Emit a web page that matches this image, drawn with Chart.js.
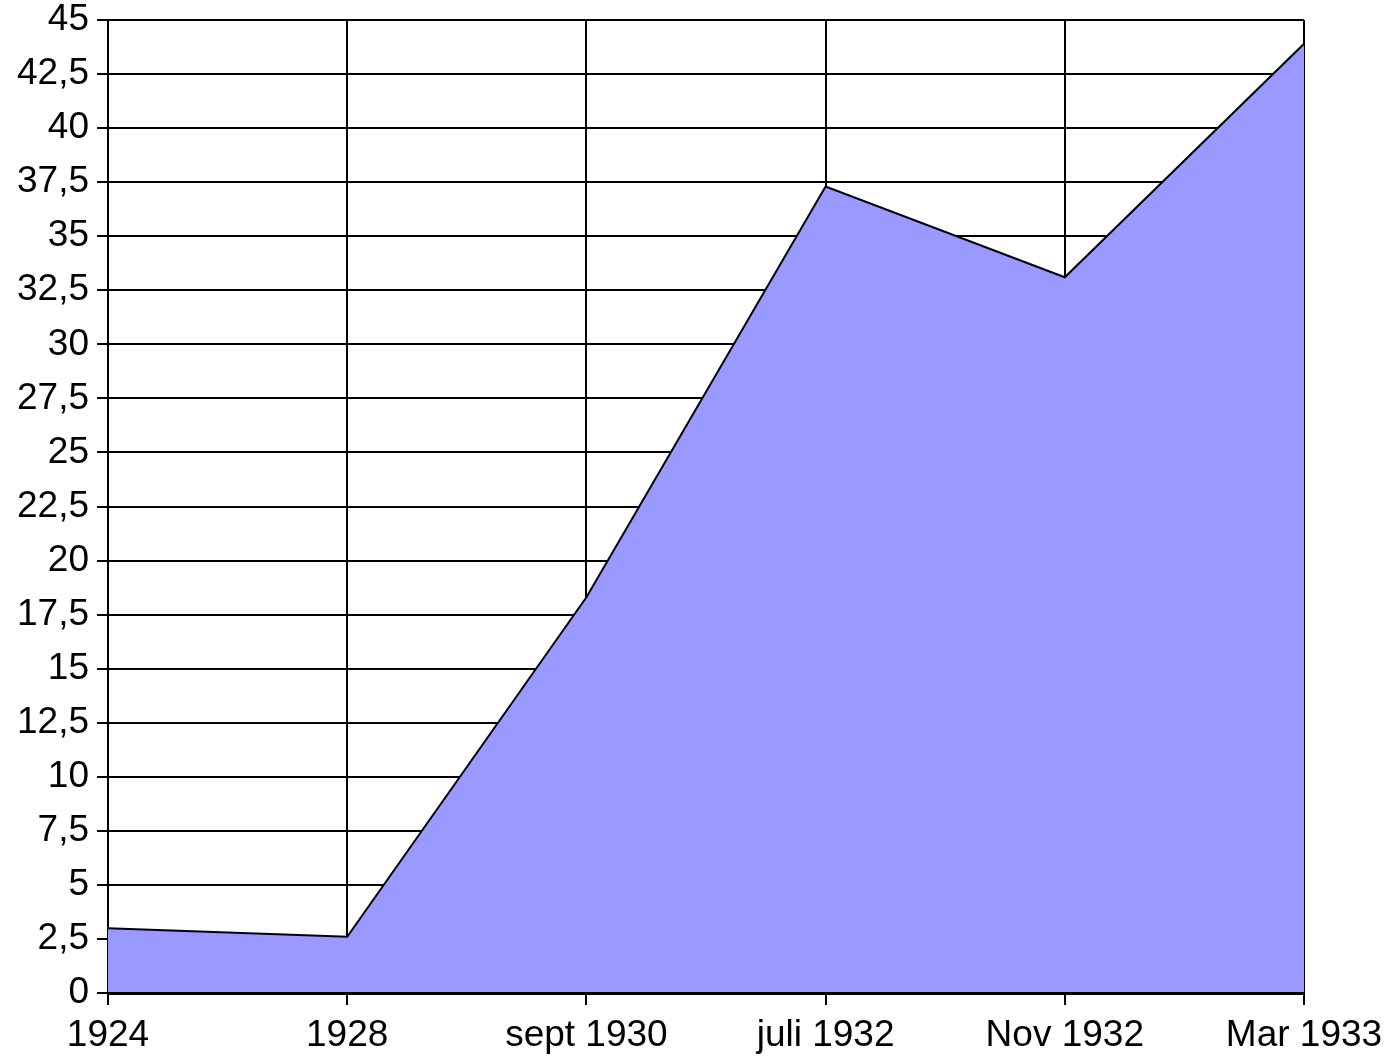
<!DOCTYPE html>
<html>
<head>
<meta charset="utf-8">
<script src="https://cdn.jsdelivr.net/npm/chart.js@4/dist/chart.umd.min.js"></script>
<style>
  html, body { margin: 0; padding: 0; background: #fff; }
  #wrap { width: 1394px; height: 1057px; }
</style>
</head>
<body>
<div id="wrap"><canvas id="chart" width="1394" height="1057"></canvas></div>
<script>
// verkiezingen, percentage stemmen
var labels = ['1924', '1928', 'sept 1930', 'juli 1932', 'Nov 1932', 'Mar 1933'];
var percent = [3.0, 2.6, 18.3, 37.3, 33.1, 43.9];
var yMin = 0, yMax = 45, yStep = 2.5;

var ctx = document.getElementById('chart');
var font = { family: "'Liberation Sans', Arial, sans-serif", size: 37 };

var chart = new Chart(ctx, {
	type: 'line',
	data: {
		labels: labels,
		datasets: [{
			data: percent,
			borderColor: '#000',
			borderWidth: 2,
			backgroundColor: '#9999ff',
			fill: 'origin',
			tension: 0,
			pointRadius: 0,
			pointHoverRadius: 0,
			clip: { left: 0, top: 0, right: 0, bottom: -1 }
		}]
	},
	options: {
		responsive: false,
		animation: false,
		events: [],
		layout: { padding: { top: 20, right: 90, left: 0, bottom: 0 } },
		plugins: {
			legend: { display: false },
			tooltip: { enabled: false }
		},
		scales: {
			x: {
				offset: false,
				grid: { color: '#000', lineWidth: 2, tickLength: 12, drawTicks: true },
				border: { color: '#000', width: 3 },
				ticks: { color: '#000', font: font, padding: 9, maxRotation: 0, autoSkip: false },
				afterFit: function(scale) { scale.height = 64; }
			},
			y: {
				min: yMin,
				max: yMax,
				grid: { color: '#000', lineWidth: 2, tickLength: 11, drawTicks: true },
				border: { color: '#000', width: 2 },
				ticks: {
					stepSize: yStep,
					color: '#000',
					font: font,
					padding: 8,
					callback: function(v) { return String(v).replace('.', ','); }
				},
				afterFit: function(scale) {
					scale.width = 108;
					scale.paddingTop = 0;
					scale.paddingBottom = 0;
				}
			}
		}
	}
});
</script>
</body>
</html>
